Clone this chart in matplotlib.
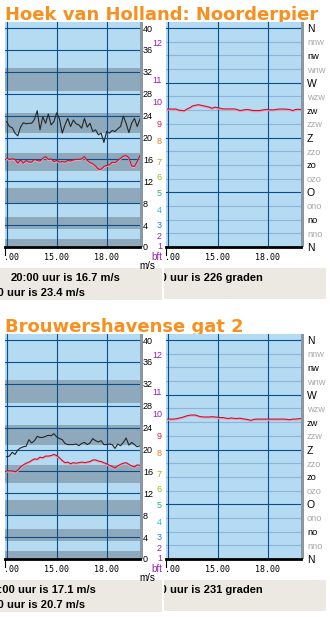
import matplotlib
matplotlib.use('Agg')
import matplotlib.pyplot as plt
import matplotlib.transforms as mtransforms
from matplotlib.transforms import Bbox
from matplotlib.patches import Rectangle
import numpy as np

# meetmomenten 12:00 - 20:00, elke 10 minuten
tijden = np.arange(12, 20.001, 1 / 6)

# Hoek van Holland: windstoot, gemiddelde wind (m/s) en richting (graden)
hvh_stoot = [22.9, 22.0, 21.8, 20.8, 20.3, 21.9, 22.7, 22.5, 22.6, 22.6,
             23.3, 24.9, 21.4, 23.8, 22.6, 24.3, 22.3, 22.9, 24.5, 23.4,
             20.8, 22.3, 23.5, 22.0, 23.2, 22.5, 22.3, 21.7, 23.5, 21.9,
             22.6, 21.1, 21.4, 20.5, 20.8, 19.1, 21.1, 20.8, 21.3, 21.1,
             21.6, 22.0, 23.9, 22.6, 20.9, 22.6, 23.5, 22.0, 23.4]
hvh_gem = [16.2, 16.0, 16.1, 16.0, 15.3, 15.9, 15.3, 15.8, 15.5, 15.5,
           16.0, 15.8, 15.7, 16.2, 16.5, 16.0, 16.1, 15.6, 15.8, 15.5,
           15.6, 15.5, 15.8, 15.7, 15.9, 16.0, 16.0, 16.1, 16.5, 15.8,
           15.4, 15.2, 14.8, 14.2, 14.2, 14.7, 14.9, 15.0, 15.5, 15.4,
           15.8, 16.2, 16.6, 16.7, 16.3, 14.8, 14.7, 15.6, 16.7]
hvh_richting = [226.8, 226.8, 226.8, 226.8, 225, 224.5, 224, 227, 229, 232,
                233, 234, 233, 232, 231, 230, 228, 230, 229, 228,
                227, 227, 227, 227, 227, 226, 224.3, 225, 226, 226,
                225, 224.3, 224.3, 224.3, 225, 226, 226, 225.5, 225.5, 226,
                226.8, 226.8, 226.8, 226.5, 226, 224.3, 226, 226.5, 226]

# Brouwershavense gat 2
bwh_stoot = [18.7, 18.8, 19.5, 19.1, 19.9, 20.3, 20.5, 20.6, 21.8, 21.2,
             21.6, 22.4, 22.2, 22.2, 22.4, 22.6, 22.5, 22.9, 22.3, 22.0,
             21.8, 21.1, 20.9, 20.9, 20.9, 21.0, 20.7, 21.1, 21.3, 20.9,
             21.2, 22.0, 21.6, 21.4, 21.6, 20.9, 20.9, 21.0, 20.9, 20.2,
             21.0, 20.7, 21.3, 22.1, 20.8, 21.3, 20.9, 20.5, 20.7]
bwh_gem = [16.1, 16.1, 16.1, 15.9, 16.2, 16.8, 17.2, 17.5, 17.7, 18.0,
           18.3, 18.2, 18.6, 18.5, 18.8, 18.8, 18.9, 19.1, 18.9, 18.5,
           18.0, 17.6, 17.7, 17.4, 17.6, 17.5, 17.6, 17.7, 17.6, 17.7,
           17.8, 18.1, 18.1, 17.9, 17.8, 17.6, 17.4, 17.1, 16.9, 16.6,
           17.0, 17.3, 17.5, 17.6, 17.3, 17.0, 16.8, 17.2, 17.1]
bwh_richting = [230, 230, 230, 230.5, 231.5, 232.5, 234, 235.5, 236.5, 236.7,
                236.7, 235, 234, 233.5, 233.5, 233.5, 234, 233.5, 233, 232.5,
                232.5, 231.5, 231, 232, 231, 231, 231.5, 230.5, 230, 229,
                228, 229.5, 230, 230, 230, 230, 230, 230, 230, 230,
                230, 230, 230, 229.5, 229, 230, 230, 230.5, 231]

tijd_ticks = [12, 15, 18]
tijd_labels = ['12.00', '15.00', '18.00']
ms_ticks = list(range(0, 41, 4))
bft_nummers = ['12', '11', '10', '9', '8', '7', '6', '5', '4', '3', '2', '1']
bft_posities = [37.1, 30.5, 26.4, 22.4, 19.2, 15.5, 12.7, 9.7, 6.6, 4.0, 1.9, 0.15]
bft_kleuren = ['#9a1fb0', '#9a1fb0', '#9a1fb0', '#d8232a', '#f07a1a', '#c0a000',
               '#8fbf1a', '#2bb573', '#29c0d0', '#2a7fd0', '#7a2bc0', '#9a1fb0']
# donkere banden = oneven windkrachten
bft_banden = [(0.25, 1.55), (3.35, 5.45), (7.95, 10.75), (13.85, 17.15),
              (20.75, 24.45), (28.45, 32.65)]
richting_ticks = np.arange(0, 361, 22.5)
richting_labels = ['N', 'nno', 'no', 'ono', 'O', 'ozo', 'zo', 'zzo', 'Z',
                   'zzw', 'zw', 'wzw', 'W', 'wnw', 'nw', 'nnw', 'N']

ORANJE = '#f7901e'
LICHT = '#b5dbf3'
DONKER = '#8fa9bc'
GRID = '#0a4f8a'
GRID_LICHT = '#8db6d6'
STRIP = '#8a98a3'
BOX = '#ebe9e1'
ROOD = '#c41230'
ROZE = '#f4a0b4'
KLEIN = 'Liberation Sans'

W, H = 330, 617
fig = plt.figure(figsize=(W / 100, H / 100), dpi=100)
fig.patch.set_facecolor('white')

bg = fig.add_axes([0, 0, 1, 1])
bg.set_xlim(0, W)
bg.set_ylim(H, 0)
bg.set_axis_off()


def px_axes(x0, y0, x1, y1):
    return fig.add_axes([x0 / W, 1 - y1 / H, (x1 - x0) / W, (y1 - y0) / H])


def px_clip(x0, y0, x1, y1):
    # knipkader in pixels (bovenaf gemeten)
    return Bbox.from_extents(x0, H - y1, x1, H - y0)


def onderas(ax, knip_x, dy):
    for s in ['top', 'left', 'right']:
        ax.spines[s].set_visible(False)
    ax.spines['bottom'].set_color('black')
    ax.spines['bottom'].set_linewidth(2)
    ax.spines['bottom'].set_zorder(5)
    ax.set_xticks(tijd_ticks, tijd_labels)
    ax.tick_params(axis='x', length=0, pad=4.5, labelsize=6)
    for lbl in ax.get_xticklabels():
        lbl.set_family('DejaVu Sans Mono')
        lbl.set_clip_box(px_clip(knip_x, dy + 248, W, dy + 270))
        lbl.set_clip_on(True)


def paneel(dy, titel, stoot, gem, richting, regels, regel_richting):
    bg.text(5, dy + 19.5, titel, fontsize=13, fontweight='bold', color=ORANJE,
            va='baseline', ha='left')

    # windsnelheid
    ax = px_axes(5, dy + 22, 140, dy + 247)
    ax.set_facecolor(LICHT)
    ax.set_xlim(11.9, 20.0)
    ax.set_ylim(0, 41.1)
    for lo, hi in bft_banden:
        ax.axhspan(lo, hi, color=DONKER, lw=0, zorder=0.5)
    for v in ms_ticks[1:]:
        ax.axhline(v, color=GRID, lw=0.8, zorder=1)
    for t in tijd_ticks:
        ax.axvline(t, color=GRID, lw=0.8, zorder=1)
    ax.plot(tijden, stoot, color='#262626', lw=0.8, zorder=3)
    schaduw = mtransforms.offset_copy(ax.transData, fig=fig, x=0, y=-1, units='dots')
    ax.plot(tijden, gem, color=ROZE, lw=1.0, transform=schaduw, zorder=3)
    ax.plot(tijden, gem, color=ROOD, lw=0.8, zorder=4)
    ax.plot([11.92, 11.92], [0, -1.4], color='black', lw=0.8, clip_on=False)
    onderas(ax, 4, dy)
    ax.yaxis.tick_right()
    ax.set_yticks(ms_ticks)
    ax.tick_params(axis='y', length=0, pad=2.2, labelsize=6.5)
    for lbl in ax.get_yticklabels():
        lbl.set_family(KLEIN)

    trans = mtransforms.blended_transform_factory(ax.transAxes, ax.transData)
    for n, p, c in zip(bft_nummers, bft_posities, bft_kleuren):
        ax.text(1.163, p, n, transform=trans, ha='right', va='center',
                fontsize=6.5, family=KLEIN, color=c, clip_on=False)
    ax.text(1.163, -1.9, 'bft', transform=trans, ha='right', va='center',
            fontsize=7, family=KLEIN, color='#9a1fb0', clip_on=False)
    bg.text(139, dy + 266, 'm/s', fontsize=7, family=KLEIN, va='center', ha='left')
    bg.add_patch(Rectangle((140, dy + 22), 2.5, 225, color=STRIP, lw=0))

    # windrichting
    ax2 = px_axes(166, dy + 22, 301, dy + 247)
    ax2.set_facecolor(LICHT)
    ax2.set_xlim(11.9, 20.0)
    ax2.set_ylim(0, 369.9)
    for d in richting_ticks:
        kleur = GRID if d % 90 == 0 else GRID_LICHT
        ax2.axhline(d, color=kleur, lw=0.8, zorder=1)
    for t in tijd_ticks:
        ax2.axvline(t, color=GRID, lw=0.8, zorder=1)
    schaduw2 = mtransforms.offset_copy(ax2.transData, fig=fig, x=0, y=-1, units='dots')
    ax2.plot(tijden, richting, color=ROZE, lw=1.0, transform=schaduw2, zorder=3)
    ax2.plot(tijden, richting, color=ROOD, lw=0.8, zorder=4)
    ax2.plot([11.92, 11.92], [0, -12.5], color='black', lw=0.8, clip_on=False)
    onderas(ax2, 166, dy)
    ax2.yaxis.tick_right()
    ax2.set_yticks(richting_ticks, richting_labels)
    ax2.tick_params(axis='y', length=0, pad=4.3)
    for lbl in ax2.get_yticklabels():
        t = lbl.get_text()
        lbl.set_family(KLEIN)
        if t in ('N', 'O', 'Z', 'W'):
            lbl.set_fontsize(7.5)
            lbl.set_color('black')
        elif len(t) == 2:
            lbl.set_fontsize(6.7)
            lbl.set_color('black')
        else:
            lbl.set_fontsize(6.7)
            lbl.set_color('#a8a8a8')
    bg.add_patch(Rectangle((301, dy + 22), 2.5, 225, color=STRIP, lw=0))

    # tekstvakken
    bg.add_patch(Rectangle((0, dy + 268), 162, 32, color=BOX, lw=0))
    bg.add_patch(Rectangle((163.5, dy + 268), 162, 31, color=BOX, lw=0))
    for uur_x, y, rest in regels:
        bg.text(uur_x - 3, dy + y, '20:00', ha='right', va='center',
                fontsize=8, fontweight='bold', family=KLEIN)
        bg.text(uur_x, dy + y, rest, ha='left', va='center',
                fontsize=8, fontweight='bold', family=KLEIN)
    uur_x, y, rest = regel_richting
    t = bg.text(uur_x - 3, dy + y, '20:00', ha='right', va='center',
                fontsize=8, fontweight='bold', family=KLEIN)
    t.set_clip_box(px_clip(163.5, dy + 268, 325.5, dy + 299))
    t.set_clip_on(True)
    bg.text(uur_x, dy + y, rest, ha='left', va='center',
            fontsize=8, fontweight='bold', family=KLEIN)


paneel(0, 'Hoek van Holland: Noorderpier', hvh_stoot, hvh_gem, hvh_richting,
       [(42, 278, 'uur is 16.7 m/s'), (7, 293, 'uur is 23.4 m/s')],
       (170, 278, 'uur is 226 graden'))
paneel(312, 'Brouwershavense gat 2', bwh_stoot, bwh_gem, bwh_richting,
       [(18, 278, 'uur is 17.1 m/s'), (7, 293, 'uur is 20.7 m/s')],
       (170, 278, 'uur is 231 graden'))

fig.savefig('out.png', dpi=100)
